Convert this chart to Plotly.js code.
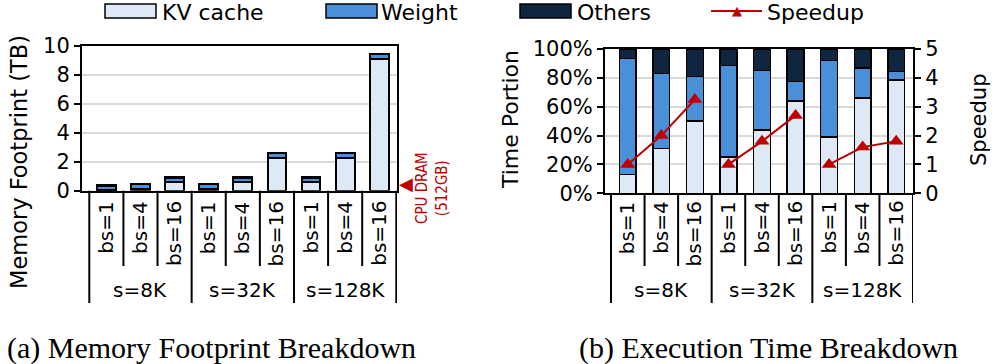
<!DOCTYPE html>
<html>
<head>
<meta charset="utf-8">
<script src="https://cdn.plot.ly/plotly-3.0.1.min.js"></script>
<style>
  html, body { margin: 0; padding: 0; background: #fff; }
  #chart { width: 996px; height: 364px; }
</style>
</head>
<body>
<div id="chart"></div>
<script>
// categories
var seqLens = ["s=8K", "s=32K", "s=128K"];
var batchSizes = ["bs=1", "bs=4", "bs=16"];
var categories = [];
seqLens.forEach(function (s) {
  batchSizes.forEach(function (b) { categories.push(s + " " + b); });
});

// (a) memory footprint in TB
var memKV     = [0.036, 0.14, 0.57, 0.14, 0.57, 2.27, 0.57, 2.27, 9.1];
var memWeight = [0.3, 0.3, 0.3, 0.3, 0.3, 0.3, 0.3, 0.3, 0.3];
var memOthers = [0.05, 0.05, 0.05, 0.05, 0.05, 0.05, 0.05, 0.05, 0.05];
var cpuDram = 0.512;

// (b) execution time portion (%) and speedup
var timeKV     = [13, 31, 50, 25, 44, 64, 39, 66, 78.5];
var timeWeight = [80.5, 52, 31, 63.5, 41, 13.5, 53, 21, 6];
var timeOthers = [6.5, 17, 19, 11.5, 15, 22.5, 8, 13, 15.5];
var speedup    = [1.0, 2.0, 3.25, 1.0, 1.8, 2.7, 1.0, 1.6, 1.8];

var cKV = "#DDEAF6", cWeight = "#4A90D9", cOthers = "#10253F", cRed = "#C00000";
var FONT = "DejaVu Sans, Verdana, sans-serif";
var W = 996, H = 364;
function px(x) { return x / W; }
function py(y) { return 1 - y / H; }

function barTrace(y, color, xa, ya, width, lw) {
  return {
    type: "bar", x: categories, y: y, xaxis: xa, yaxis: ya, width: width,
    marker: { color: color, line: { color: "#000", width: lw } },
    showlegend: false, hoverinfo: "skip"
  };
}

var data = [
  barTrace(memKV, cKV, "x", "y", 0.55, 2),
  barTrace(memWeight, cWeight, "x", "y", 0.55, 2),
  barTrace(memOthers, cOthers, "x", "y", 0.55, 2),
  barTrace(timeKV, cKV, "x2", "y2", 0.5, 1.5),
  barTrace(timeWeight, cWeight, "x2", "y2", 0.5, 1.5),
  barTrace(timeOthers, cOthers, "x2", "y2", 0.5, 1.5)
];

// speedup lines, one per sequence length
for (var g = 0; g < seqLens.length; g++) {
  data.push({
    type: "scatter", mode: "lines+markers",
    x: categories.slice(g * 3, g * 3 + 3),
    y: speedup.slice(g * 3, g * 3 + 3),
    xaxis: "x2", yaxis: "y3",
    line: { color: cRed, width: 2 },
    marker: { symbol: "triangle-up", size: 13, color: cRed },
    cliponaxis: false, showlegend: false, hoverinfo: "skip"
  });
}

var axisLine = { showline: true, linecolor: "#000", linewidth: 2, zeroline: false, fixedrange: true };
function xax(domain, range, anchor) {
  return Object.assign({
    domain: domain, range: range, anchor: anchor, type: "category",
    categoryarray: categories, showticklabels: false, ticks: "", showgrid: false, mirror: true
  }, axisLine);
}
function yax(domain, range, dtick, anchor, extra) {
  return Object.assign({
    domain: domain, range: range, dtick: dtick, anchor: anchor,
    ticks: "outside", ticklen: 6, tickwidth: 2, tickcolor: "#000",
    tickfont: { size: 21, color: "#000" },
    gridcolor: "#D9D9D9", gridwidth: 2
  }, axisLine, extra || {});
}

var shapes = [];
var annotations = [];
function note(o) {
  annotations.push(Object.assign({ showarrow: false, xanchor: "center", yanchor: "middle" }, o));
}

// category table under both x axes
[["x", 190.7], ["x2", 193.3]].forEach(function (ax) {
  for (var i = 0; i <= categories.length; i++) {
    var group = i % 3 === 0;
    shapes.push({
      type: "line", xref: ax[0], yref: "paper",
      x0: i - 0.5, x1: i - 0.5, y0: py(ax[1]), y1: py(group ? 303 : 266),
      line: { color: "#000", width: 2 }
    });
  }
  categories.forEach(function (c, i) {
    note({ xref: ax[0], yref: "paper", x: c, y: py(199), yanchor: "top",
      text: batchSizes[i % 3], textangle: -90,
      font: { family: FONT, size: 20, color: "#000" } });
  });
  seqLens.forEach(function (s, g) {
    note({ xref: ax[0], yref: "paper", x: categories[g * 3 + 1], y: py(290),
      text: s, font: { family: FONT, size: 20, color: "#000" } });
  });
});

// axis titles
note({ xref: "paper", yref: "paper", x: px(19), y: py(162), text: "Memory Footprint (TB)", textangle: -90,
  font: { family: FONT, size: 22.5, color: "#000" } });
note({ xref: "paper", yref: "paper", x: px(511), y: py(120), text: "Time Portion", textangle: -90,
  font: { family: FONT, size: 22, color: "#000" } });
note({ xref: "paper", yref: "paper", x: px(979), y: py(120), text: "Speedup", textangle: -90,
  font: { family: FONT, size: 21, color: "#000" } });

// CPU DRAM marker
note({ xref: "paper", yref: "y", x: px(406), y: cpuDram, text: "\u25C0",
  font: { family: FONT, size: 18, color: cRed } });
note({ xref: "paper", yref: "paper", x: px(432), y: py(188), text: "CPU DRAM<br>(512GB)", textangle: -90,
  font: { family: "DejaVu Sans Condensed, Liberation Sans Narrow, sans-serif", size: 15, color: cRed } });

// captions
note({ xref: "paper", yref: "paper", x: px(211), y: py(348), text: "(a) Memory Footprint Breakdown",
  font: { family: "Liberation Serif, Times New Roman, serif", size: 30, color: "#000" } });
note({ xref: "paper", yref: "paper", x: px(768), y: py(348), text: "(b) Execution Time Breakdown",
  font: { family: "Liberation Serif, Times New Roman, serif", size: 30, color: "#000" } });

// legend
var legendItems = [
  { name: "KV cache", color: cKV, x: 105, tx: 160 },
  { name: "Weight", color: cWeight, x: 326, tx: 379 },
  { name: "Others", color: cOthers, x: 520, tx: 575 }
];
legendItems.forEach(function (it) {
  shapes.push({ type: "rect", xref: "paper", yref: "paper",
    x0: px(it.x), x1: px(it.x + 51), y0: py(18), y1: py(4),
    fillcolor: it.color, line: { color: "#000", width: 1.5 } });
  note({ xref: "paper", yref: "paper", x: px(it.tx), y: py(13), xanchor: "left",
    text: it.name, font: { family: FONT, size: 22, color: "#000" } });
});
shapes.push({ type: "line", xref: "paper", yref: "paper", x0: px(711), x1: px(762), y0: py(11), y1: py(11),
  line: { color: cRed, width: 2 } });
note({ xref: "paper", yref: "paper", x: px(736.5), y: py(10), text: "\u25B2",
  font: { family: FONT, size: 13, color: cRed } });
note({ xref: "paper", yref: "paper", x: px(765), y: py(13), xanchor: "left", text: "Speedup",
  font: { family: FONT, size: 22, color: "#000" } });

var layout = {
  width: W, height: H,
  margin: { l: 0, r: 0, t: 0, b: 0 },
  paper_bgcolor: "#fff", plot_bgcolor: "#fff",
  font: { family: FONT, color: "#000" },
  barmode: "stack",
  showlegend: false,
  xaxis: xax([px(82), px(397)], [-0.714, 8.52], "y"),
  yaxis: yax([py(190.7), py(45.7)], [0, 10], 2, "x", { mirror: true }),
  xaxis2: xax([px(605), px(913)], [-0.679, 8.5], "y2"),
  yaxis2: yax([py(193.3), py(49)], [0, 100], 20, "x2", { ticksuffix: "%" }),
  yaxis3: yax([py(193.3), py(49)], [0, 5], 1, "x2", { overlaying: "y2", side: "right", showgrid: false }),
  shapes: shapes,
  annotations: annotations
};

Plotly.newPlot("chart", data, layout, { staticPlot: true });
</script>
</body>
</html>
